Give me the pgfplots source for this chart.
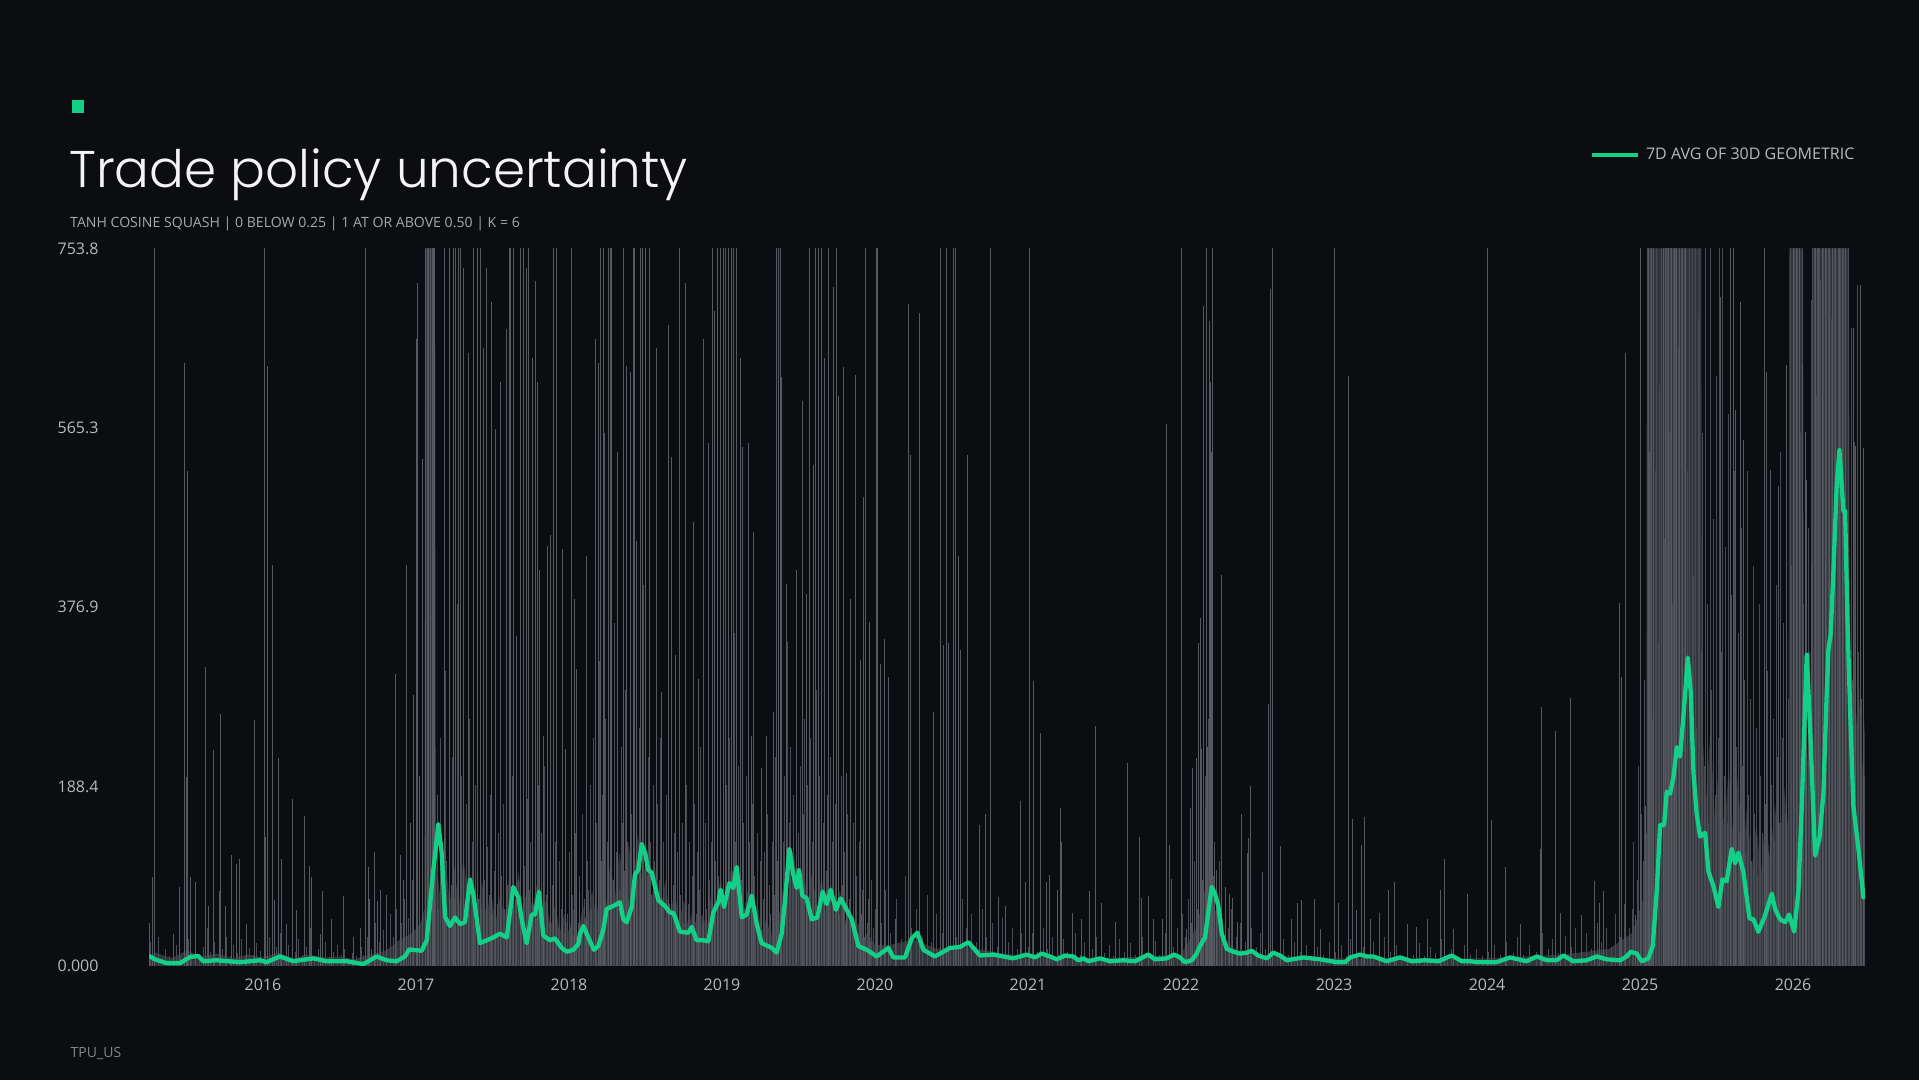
\documentclass[border=0pt]{standalone}
\usepackage{fontspec}
\setmainfont{Open Sans}
\newfontfamily\titlefont{Poppins Light}
\usepackage{pgfplots}
\pgfplotsset{compat=1.18}
\definecolor{bg}{RGB}{12,13,16}
\definecolor{grn}{RGB}{18,208,135}
\definecolor{barc}{RGB}{86,90,96}
\definecolor{barf}{RGB}{72,75,81}
\definecolor{basec}{RGB}{50,53,58}
\definecolor{lbl}{RGB}{182,185,190}
\definecolor{subc}{RGB}{165,168,173}
\definecolor{footc}{RGB}{130,133,138}
\definecolor{ttl}{RGB}{244,244,244}
\begin{document}
\begin{tikzpicture}
\fill[bg] (0bp,0bp) rectangle (1919bp,1080bp);
\fill[grn] (72bp,967bp) rectangle (84bp,980bp);
\node[anchor=base west, inner sep=0pt, text=ttl, font=\titlefont\fontsize{51.6bp}{55bp}\selectfont] at (69bp,892bp) {Trade policy uncertainty};
\node[anchor=base west, inner sep=0pt, text=subc, font=\fontsize{14.1bp}{16bp}\selectfont] at (70bp,852.3bp) {TANH COSINE SQUASH | 0 BELOW 0.25 | 1 AT OR ABOVE 0.50 | K = 6};
\node[anchor=base west, inner sep=0pt, text=footc, font=\fontsize{14bp}{16bp}\selectfont] at (70.5bp,23bp) {TPU\_US};
\begin{axis}[at={(149bp,114bp)}, anchor=south west, scale only axis,
  width=1716bp, height=717.5bp,
  xmin=2015.255, xmax=2026.47, ymin=0, ymax=753.8,
  axis line style={draw=none}, major tick length=0pt,
  xtick={2016,2017,2018,2019,2020,2021,2022,2023,2024,2025,2026},
  xticklabels={2016,2017,2018,2019,2020,2021,2022,2023,2024,2025,2026},
  ytick={0,188.45,376.9,565.35,753.8},
  yticklabels={0.000,188.4,376.9,565.3,753.8},
  xticklabel style={font=\fontsize{16bp}{18bp}\selectfont, text=lbl, inner sep=0pt, anchor=north, yshift=-13bp},
  yticklabel style={font=\fontsize{16bp}{18bp}\selectfont, text=lbl, inner sep=0pt, anchor=east, xshift=-50.3bp},
  legend style={at={(0.8397,1.1307)}, anchor=west, draw=none, fill=none, inner sep=0pt, outer sep=0pt,
    font=\fontsize{16bp}{18bp}\selectfont, text=lbl, nodes={inner sep=0pt}},
  legend image code/.code={\draw[#1, line width=4bp, line cap=butt] (0bp,0bp) -- (45.7bp,0bp); \path (52bp,0bp);},
]
% dense base texture of the daily bars
\addplot[fill=basec, draw=none, forget plot] coordinates {
(2015.255,10)(2015.30,14)(2015.40,8)(2015.50,16)(2015.60,10)(2015.70,13)(2015.80,8)(2015.90,12)(2016.00,9)(2016.10,14)(2016.20,8)(2016.30,12)(2016.40,9)(2016.50,10)(2016.60,7)(2016.70,12)(2016.80,16)(2016.90,28)(2016.98,35)(2017.03,45)(2017.055,60)(2017.06,753.8)(2017.125,753.8)
(2017.13,110)(2017.16,70)(2017.19,120)(2017.22,65)(2017.25,105)(2017.28,60)(2017.31,115)(2017.34,70)(2017.37,100)(2017.40,55)(2017.43,90)(2017.46,50)(2017.49,80)(2017.52,45)(2017.55,75)(2017.58,50)(2017.61,95)(2017.64,60)(2017.67,100)(2017.70,55)(2017.73,90)(2017.76,60)(2017.79,85)(2017.82,50)(2017.85,70)(2017.88,40)(2017.91,65)(2017.94,35)(2017.97,55)(2018.00,35)(2018.03,60)(2018.06,30)(2018.09,65)(2018.12,40)(2018.15,80)(2018.18,50)(2018.21,100)(2018.24,60)(2018.27,110)(2018.30,70)(2018.33,120)(2018.36,75)(2018.39,130)(2018.42,80)(2018.45,140)(2018.48,85)(2018.51,125)(2018.54,70)(2018.57,105)(2018.60,60)(2018.63,90)(2018.66,50)(2018.69,80)(2018.72,45)(2018.75,70)(2018.78,40)(2018.81,60)(2018.84,35)(2018.87,55)(2018.90,40)(2018.93,75)(2018.96,50)(2018.99,95)(2019.02,60)(2019.05,105)(2019.08,65)(2019.11,100)(2019.14,55)(2019.17,80)(2019.20,45)(2019.23,65)(2019.26,35)(2019.29,50)(2019.32,30)(2019.35,60)(2019.38,55)(2019.41,100)(2019.44,70)(2019.47,120)(2019.50,75)(2019.53,110)(2019.56,65)(2019.59,100)(2019.62,60)(2019.65,95)(2019.68,55)(2019.71,90)(2019.74,50)(2019.77,80)(2019.80,45)(2019.83,60)(2019.86,35)(2019.89,45)(2019.92,25)(2019.95,35)(2020.00,22)
(2020.10,22)(2020.25,28)(2020.40,18)(2020.60,20)(2020.80,14)(2021.00,10)(2021.50,8)(2022.00,12)(2022.10,40)(2022.17,90)(2022.22,60)(2022.30,25)(2022.40,12)(2022.70,10)(2023.00,8)(2023.50,8)(2024.00,8)(2024.50,12)(2024.80,18)(2024.95,35)(2025.04,80)(2025.045,753.8)(2025.40,753.8)
(2025.405,260)(2025.43,170)(2025.46,250)(2025.49,150)(2025.52,230)(2025.55,140)(2025.58,210)(2025.61,130)(2025.64,200)(2025.67,110)(2025.70,170)(2025.73,100)(2025.76,150)(2025.79,95)(2025.82,160)(2025.85,110)(2025.88,170)(2025.91,120)(2025.94,190)(2025.97,140)(2025.975,753.8)(2026.065,753.8)(2026.07,300)(2026.09,200)(2026.11,320)(2026.12,250)(2026.125,753.8)(2026.365,753.8)(2026.37,330)(2026.40,220)(2026.43,300)(2026.45,200)(2026.47,260)
} \closedcycle;
% filler daily bars
\addplot[ycomb, draw=barf, line width=1bp, forget plot] coordinates {
(2015.265,25)(2015.29,12)(2015.315,30)(2015.34,8)(2015.365,18)(2015.39,10)(2015.435,22)(2015.46,9)(2015.51,28)(2015.535,14)(2015.56,35)(2015.585,12)(2015.61,20)(2015.635,40)(2015.66,15)(2015.685,25)(2015.735,18)(2015.76,30)(2015.785,10)(2015.81,22)(2015.835,14)(2015.86,28)(2015.885,9)(2015.91,19)(2015.935,12)(2015.96,24)(2015.985,16)(2016.04,30)(2016.065,12)(2016.09,20)(2016.115,35)(2016.14,10)(2016.165,22)(2016.21,15)(2016.235,28)(2016.26,12)(2016.285,20)(2016.31,40)(2016.335,10)(2016.36,18)(2016.41,25)(2016.435,9)(2016.46,15)(2016.485,22)(2016.51,12)(2016.535,18)(2016.56,8)(2016.585,14)(2016.61,10)(2016.645,20)(2016.66,12)(2016.685,30)(2016.71,18)(2016.735,45)(2016.76,25)(2016.785,38)(2016.81,22)(2016.835,55)(2016.85,30)(2016.875,60)(2016.905,45)(2016.925,70)(2016.95,50)(2016.975,90)
(2017.13,95)(2017.14,180)(2017.15,60)(2017.16,240)(2017.17,130)(2017.18,75)(2017.19,310)(2017.20,110)(2017.21,50)(2017.22,160)
(2017.23,85)(2017.24,220)(2017.25,70)(2017.26,140)(2017.27,380)(2017.28,90)(2017.29,55)(2017.30,200)(2017.31,120)(2017.32,65)
(2017.33,170)(2017.34,95)(2017.35,260)(2017.36,80)(2017.37,130)(2017.38,45)(2017.39,190)(2017.40,110)(2017.41,70)(2017.42,150)
(2017.43,60)(2017.44,230)(2017.45,90)(2017.46,40)(2017.47,125)(2017.48,75)(2017.49,180)(2017.50,55)(2017.51,100)(2017.52,210)
(2017.53,65)(2017.54,140)(2017.55,45)(2017.56,95)(2017.57,170)(2017.58,60)(2017.59,260)(2017.60,85)(2017.61,130)(2017.62,50)
(2017.63,200)(2017.64,115)(2017.65,70)(2017.66,300)(2017.67,90)(2017.68,155)(2017.69,60)(2017.70,220)(2017.71,105)(2017.72,45)
(2017.73,175)(2017.74,80)(2017.75,130)(2017.76,240)(2017.77,65)(2017.78,110)(2017.79,50)(2017.80,190)(2017.81,90)(2017.82,140)
(2017.83,60)(2017.84,210)(2017.85,75)(2017.86,120)(2017.87,45)(2017.88,165)(2017.89,85)(2017.90,55)(2017.91,130)(2017.92,70)
(2017.93,40)(2017.94,110)(2017.95,60)(2017.96,150)(2017.97,35)(2017.98,90)(2017.99,55)(2018.00,120)(2018.01,40)(2018.02,75)
(2018.03,30)(2018.04,140)(2018.05,60)(2018.06,45)(2018.07,95)(2018.08,35)(2018.09,160)(2018.10,70)(2018.11,50)(2018.12,110)
(2018.13,80)(2018.14,190)(2018.15,60)(2018.16,240)(2018.17,95)(2018.18,150)(2018.19,70)(2018.20,320)(2018.21,110)(2018.22,180)
(2018.23,85)(2018.24,260)(2018.25,130)(2018.26,75)(2018.27,210)(2018.28,140)(2018.29,90)(2018.30,360)(2018.31,120)(2018.32,170)
(2018.33,80)(2018.34,230)(2018.35,150)(2018.36,100)(2018.37,290)(2018.38,130)(2018.39,70)(2018.40,200)(2018.41,160)(2018.42,110)
(2018.43,340)(2018.44,140)(2018.45,90)(2018.46,250)(2018.47,180)(2018.48,120)(2018.49,400)(2018.50,150)(2018.51,95)(2018.52,220)
(2018.53,130)(2018.54,75)(2018.55,190)(2018.56,110)(2018.57,60)(2018.58,170)(2018.59,90)(2018.60,240)(2018.61,70)(2018.62,130)
(2018.63,50)(2018.64,180)(2018.65,100)(2018.66,65)(2018.67,210)(2018.68,85)(2018.69,140)(2018.70,55)(2018.71,120)(2018.72,260)
(2018.73,75)(2018.74,150)(2018.75,45)(2018.76,110)(2018.77,190)(2018.78,65)(2018.79,130)(2018.80,40)(2018.81,95)(2018.82,170)
(2018.83,55)(2018.84,120)(2018.85,80)(2018.86,230)(2018.87,45)(2018.88,100)(2018.89,150)(2018.90,60)(2018.91,200)(2018.92,90)
(2018.93,130)(2018.94,70)(2018.95,180)(2018.96,110)(2018.97,260)(2018.98,95)(2018.99,150)(2019.00,75)(2019.01,310)(2019.02,120)
(2019.03,190)(2019.04,85)(2019.05,240)(2019.06,140)(2019.07,100)(2019.08,350)(2019.09,130)(2019.10,70)(2019.11,210)(2019.12,160)
(2019.13,90)(2019.14,150)(2019.15,60)(2019.16,200)(2019.17,80)(2019.18,130)(2019.19,50)(2019.20,170)(2019.21,95)(2019.22,60)
(2019.23,140)(2019.24,45)(2019.25,110)(2019.26,190)(2019.27,70)(2019.28,120)(2019.29,40)(2019.30,160)(2019.31,85)(2019.32,55)
(2019.33,130)(2019.34,75)(2019.35,220)(2019.36,110)(2019.37,160)(2019.38,90)(2019.39,280)(2019.40,130)(2019.41,200)(2019.42,100)
(2019.43,340)(2019.44,150)(2019.45,230)(2019.46,120)(2019.47,180)(2019.48,90)(2019.49,300)(2019.50,140)(2019.51,210)(2019.52,95)
(2019.53,160)(2019.54,260)(2019.55,110)(2019.56,190)(2019.57,80)(2019.58,240)(2019.59,130)(2019.60,170)(2019.61,70)(2019.62,290)
(2019.63,120)(2019.64,200)(2019.65,90)(2019.66,150)(2019.67,250)(2019.68,100)(2019.69,180)(2019.70,75)(2019.71,220)(2019.72,130)
(2019.73,60)(2019.74,170)(2019.75,95)(2019.76,140)(2019.77,55)(2019.78,200)(2019.79,85)(2019.80,120)(2019.81,45)(2019.82,160)
(2019.83,70)(2019.84,110)(2019.85,40)(2019.86,150)(2019.87,65)(2019.88,95)(2019.89,35)(2019.90,130)(2019.91,55)(2019.92,80)
(2019.93,30)(2019.94,110)(2019.95,45)(2019.96,70)(2019.97,25)(2019.98,90)(2019.99,40)
(2020.005,60)(2020.04,45)(2020.07,80)(2020.10,35)(2020.14,70)(2020.17,28)(2020.20,95)(2020.24,40)(2020.27,60)(2020.31,30)(2020.34,75)(2020.37,25)(2020.40,55)(2020.44,35)(2020.49,90)(2020.53,30)(2020.57,70)(2020.60,40)(2020.63,55)(2020.66,25)(2020.70,60)(2020.73,30)(2020.77,45)(2020.80,20)(2020.83,50)(2020.87,25)(2020.90,40)(2020.93,18)(2020.96,35)
(2021.00,20)(2021.03,35)(2021.06,15)(2021.10,40)(2021.13,18)(2021.16,30)(2021.20,12)(2021.23,28)(2021.26,15)(2021.31,35)(2021.34,12)(2021.37,25)(2021.42,18)(2021.45,30)(2021.50,14)(2021.53,22)(2021.56,10)(2021.60,28)(2021.63,15)(2021.67,24)(2021.70,12)(2021.75,30)(2021.79,18)(2021.83,26)(2021.86,12)(2021.90,35)(2021.95,20)(2021.98,40)
(2022.01,55)(2022.03,30)(2022.05,70)(2022.07,45)(2022.09,110)(2022.11,60)(2022.13,150)(2022.14,90)(2022.16,200)(2022.17,120)(2022.18,260)(2022.19,140)(2022.20,180)(2022.21,95)(2022.22,130)(2022.24,70)(2022.25,110)(2022.27,50)(2022.29,80)(2022.31,40)(2022.33,60)(2022.36,30)(2022.39,45)(2022.42,25)(2022.46,40)(2022.49,20)(2022.52,35)(2022.55,18)(2022.60,30)(2022.63,15)(2022.67,28)(2022.70,12)(2022.74,25)(2022.78,15)(2022.82,22)(2022.85,10)(2022.89,20)(2022.93,12)(2022.97,25)
(2023.01,15)(2023.05,22)(2023.08,10)(2023.11,28)(2023.15,14)(2023.19,20)(2023.22,10)(2023.26,25)(2023.30,12)(2023.33,30)(2023.37,15)(2023.41,22)(2023.44,10)(2023.48,18)(2023.52,12)(2023.56,24)(2023.59,10)(2023.63,20)(2023.66,14)(2023.70,28)(2023.74,12)(2023.77,18)(2023.81,10)(2023.85,22)(2023.89,12)(2023.93,18)(2023.97,10)
(2024.01,15)(2024.05,22)(2024.09,12)(2024.13,25)(2024.17,14)(2024.20,30)(2024.24,12)(2024.28,22)(2024.32,15)(2024.36,35)(2024.40,18)(2024.43,28)(2024.47,14)(2024.51,32)(2024.55,20)(2024.58,40)(2024.62,22)(2024.65,35)(2024.68,18)(2024.72,45)(2024.75,25)(2024.78,40)(2024.81,20)(2024.84,55)(2024.87,30)(2024.90,65)(2024.93,40)
(2024.95,60)(2024.96,130)(2024.97,45)(2024.98,90)(2024.99,210)(2025.00,80)(2025.01,160)(2025.02,110)(2025.03,300)(2025.04,140)
(2025.05,800)(2025.06,420)(2025.07,800)(2025.08,260)(2025.09,800)(2025.10,520)(2025.11,800)(2025.12,340)(2025.13,610)(2025.14,800)
(2025.15,800)(2025.16,450)(2025.17,800)(2025.18,800)(2025.19,560)(2025.20,800)(2025.21,380)(2025.22,800)(2025.23,800)(2025.24,800)
(2025.25,650)(2025.26,800)(2025.27,800)(2025.28,470)(2025.29,800)(2025.30,800)(2025.31,520)(2025.32,800)(2025.33,300)(2025.34,800)
(2025.35,410)(2025.36,800)(2025.37,250)(2025.38,680)(2025.39,800)(2025.40,330)(2025.41,560)(2025.42,210)(2025.43,800)(2025.44,380)
(2025.45,150)(2025.46,800)(2025.47,290)(2025.48,470)(2025.49,180)(2025.50,620)(2025.51,240)(2025.52,800)(2025.53,330)(2025.54,800)
(2025.55,200)(2025.56,440)(2025.57,150)(2025.58,580)(2025.59,260)(2025.60,390)(2025.61,170)(2025.62,520)(2025.63,230)(2025.64,350)
(2025.65,140)(2025.66,460)(2025.67,210)(2025.68,300)(2025.69,120)(2025.70,520)(2025.71,180)(2025.72,280)(2025.73,110)(2025.74,420)
(2025.75,160)(2025.76,250)(2025.77,95)(2025.78,380)(2025.79,200)(2025.80,140)(2025.81,450)(2025.82,170)(2025.83,310)(2025.84,120)
(2025.85,480)(2025.86,190)(2025.87,260)(2025.88,130)(2025.89,400)(2025.90,220)(2025.91,150)(2025.92,540)(2025.93,240)(2025.94,360)
(2025.95,160)(2025.96,500)(2025.97,280)(2025.98,800)(2025.99,420)(2026.00,800)(2026.01,800)(2026.02,640)(2026.03,800)(2026.04,800)
(2026.05,560)(2026.06,800)(2026.07,380)(2026.08,520)(2026.09,260)(2026.10,460)(2026.11,330)(2026.12,700)(2026.13,800)(2026.14,800)
(2026.15,600)(2026.16,800)(2026.17,800)(2026.18,720)(2026.19,800)(2026.20,800)(2026.21,560)(2026.22,800)(2026.23,800)(2026.24,800)
(2026.25,680)(2026.26,800)(2026.27,800)(2026.28,800)(2026.29,500)(2026.30,800)(2026.31,800)(2026.32,640)(2026.33,800)(2026.34,800)
(2026.35,450)(2026.36,800)(2026.37,380)(2026.38,670)(2026.39,300)(2026.40,550)(2026.41,250)(2026.42,715)(2026.43,330)(2026.44,544)
(2026.45,280)(2026.46,460)(2026.47,200)
};
% prominent daily spikes
\addplot[ycomb, draw=barc, line width=1bp, forget plot] coordinates {
(2015.257,45)(2015.279,93)(2015.294,800)(2015.414,34)(2015.453,83)(2015.486,634)(2015.497,199)(2015.505,520)(2015.523,93)(2015.556,88)(2015.623,314)(2015.643,63)(2015.675,227)(2015.714,79)(2015.721,265)(2015.756,63)(2015.795,117)(2015.828,107)(2015.845,112)(2015.893,44)(2015.943,258)(2016.011,800)(2016.018,135)(2016.028,630)(2016.063,421)(2016.078,69)(2016.100,219)(2016.122,112)(2016.155,44)(2016.194,175)(2016.220,59)(2016.270,158)(2016.303,105)(2016.318,93)(2016.373,34)(2016.388,79)(2016.449,49)(2016.525,74)(2016.591,30)(2016.634,40)(2016.671,800)(2016.690,104)(2016.699,70)(2016.727,120)(2016.747,68)(2016.769,80)(2016.808,75)(2016.865,307)(2016.897,117)(2016.917,90)(2016.937,421)(2016.961,150)(2016.985,285)(2017.002,659)(2017.013,718)(2017.026,200)(2017.044,533)
(2017.065,800)(2017.074,800)(2017.083,800)(2017.092,800)(2017.098,800)(2017.107,800)(2017.113,800)(2017.122,800)
(2017.187,800)(2017.218,800)(2017.244,800)(2017.261,800)(2017.281,800)(2017.292,800)(2017.309,733)(2017.342,644)(2017.375,800)(2017.401,800)(2017.423,800)(2017.440,649)(2017.462,733)(2017.495,698)(2017.521,564)(2017.549,614)(2017.593,669)(2017.610,800)(2017.619,800)(2017.636,800)(2017.654,347)(2017.680,800)(2017.702,800)(2017.723,733)(2017.736,800)(2017.763,639)(2017.782,720)(2017.793,614)(2017.810,416)(2017.832,242)(2017.858,441)(2017.876,453)(2017.897,800)(2017.919,800)(2017.958,438)(2017.980,228)(2018.017,800)(2018.034,386)(2018.050,312)(2018.067,79)(2018.115,431)
(2018.176,659)(2018.192,634)(2018.207,800)(2018.224,800)(2018.235,560)(2018.257,800)(2018.268,800)(2018.275,800)(2018.316,540)(2018.355,800)(2018.377,630)(2018.399,624)(2018.420,800)(2018.431,800)(2018.442,446)(2018.464,800)(2018.481,800)(2018.497,800)(2018.529,800)(2018.573,649)(2018.606,288)(2018.649,673)(2018.671,535)(2018.697,327)(2018.725,800)(2018.760,718)(2018.812,466)(2018.848,302)(2018.878,659)(2018.911,549)(2018.939,800)(2018.954,688)(2018.969,800)(2018.987,800)(2019.009,800)(2019.026,800)(2019.041,800)(2019.063,800)(2019.078,800)(2019.096,800)(2019.118,639)(2019.133,545)(2019.176,549)(2019.194,242)(2019.205,456)(2019.259,208)(2019.292,242)(2019.335,267)(2019.357,800)(2019.368,800)(2019.379,800)(2019.390,619)(2019.423,401)(2019.488,416)(2019.527,594)(2019.553,391)(2019.575,800)(2019.597,526)(2019.614,800)(2019.630,800)(2019.651,800)(2019.673,639)(2019.695,800)(2019.727,713)(2019.750,800)(2019.760,599)(2019.793,629)(2019.815,203)(2019.837,386)(2019.872,621)(2019.902,322)(2019.924,493)(2019.935,800)(2019.967,361)
(2020.011,800)(2020.018,800)(2020.033,317)(2020.061,344)(2020.087,304)(2020.131,49)(2020.218,696)(2020.235,537)(2020.290,686)(2020.381,267)(2020.425,800)(2020.447,337)(2020.469,800)(2020.479,339)(2020.516,800)(2020.523,800)(2020.544,431)(2020.556,332)(2020.603,537)(2020.686,148)(2020.719,160)(2020.752,800)(2020.806,73)(2020.850,63)(2020.948,173)(2020.985,88)
(2021.009,800)(2021.011,178)(2021.037,299)(2021.083,245)(2021.122,88)(2021.139,96)(2021.192,80)(2021.214,166)(2021.220,130)(2021.290,56)(2021.351,49)(2021.401,79)(2021.442,252)(2021.477,66)(2021.573,46)(2021.649,213)(2021.728,135)(2021.739,71)(2021.786,74)(2021.819,49)(2021.880,49)(2021.904,569)(2021.922,127)(2021.939,91)
(2022.004,800)(2022.037,39)(2022.059,166)(2022.074,208)(2022.098,218)(2022.115,339)(2022.124,366)(2022.135,228)(2022.146,693)(2022.157,168)(2022.165,800)(2022.174,230)(2022.185,678)(2022.192,614)(2022.194,441)(2022.198,540)(2022.205,800)(2022.218,123)(2022.233,101)(2022.264,411)(2022.288,83)(2022.316,76)(2022.338,71)(2022.366,46)(2022.397,160)(2022.434,119)(2022.442,134)(2022.455,189)(2022.532,99)(2022.571,275)(2022.587,711)(2022.598,800)(2022.651,126)(2022.720,49)(2022.762,66)(2022.790,69)(2022.873,70)(2022.914,39)
(2023.003,800)(2023.031,66)(2023.094,620)(2023.120,154)(2023.144,59)(2023.179,127)(2023.199,157)(2023.240,49)(2023.297,56)(2023.356,80)(2023.395,88)(2023.480,44)(2023.541,41)(2023.610,49)(2023.697,80)(2023.721,112)(2023.780,39)(2023.872,76)
(2024.002,800)(2024.030,153)(2024.121,104)(2024.218,44)(2024.346,123)(2024.353,272)(2024.446,247)(2024.481,56)(2024.546,282)(2024.619,54)(2024.701,89)(2024.734,66)(2024.760,79)(2024.865,381)(2024.880,304)(2024.904,644)(2024.967,54)
(2025.004,800)(2025.037,168)(2025.054,800)(2025.061,540)(2025.076,800)(2025.087,800)(2025.155,800)(2025.165,800)(2025.185,800)(2025.205,800)(2025.225,800)(2025.235,800)(2025.255,800)(2025.275,800)(2025.295,800)(2025.523,703)(2025.588,800)(2025.608,800)(2025.621,584)(2025.654,698)(2025.673,553)(2025.812,800)(2025.828,624)(2025.854,521)(2025.904,504)(2025.959,631)(2026.005,800)(2026.025,800)(2026.045,800)(2026.063,632)(2026.078,561)(2026.089,511)(2026.122,420)(2026.145,800)(2026.165,800)(2026.195,800)(2026.215,800)(2026.235,800)(2026.255,800)(2026.275,800)(2026.305,800)(2026.325,800)(2026.345,800)(2026.394,670)(2026.405,546)(2026.442,715)(2026.459,544)
};
% 7-day average of the 30-day geometric measure
\addplot[grn, line width=4.3bp, line join=round, line cap=round] coordinates {
(2015.257,10.5)(2015.294,7)(2015.370,3)(2015.458,3)(2015.523,9.5)(2015.577,10.5)(2015.610,5)(2015.697,6)(2015.850,4)(2015.980,6)(2016.024,4)(2016.111,10)(2016.198,5)(2016.329,8)(2016.416,5)(2016.547,5)(2016.656,2)(2016.743,10)(2016.808,6)(2016.874,5)(2016.928,10)(2016.956,17.4)(2017.037,16)(2017.070,26.8)(2017.109,94)(2017.146,149)(2017.168,119)(2017.190,51.5)(2017.222,42)(2017.255,51)(2017.288,44)(2017.320,46)(2017.353,91)(2017.375,75)(2017.418,24)(2017.462,27)(2017.505,30)(2017.549,34)(2017.593,30)(2017.636,83)(2017.669,72)(2017.691,49)(2017.723,24)(2017.756,54)(2017.778,54)(2017.804,78)(2017.832,32)(2017.876,27)(2017.908,29)(2017.952,19)(2017.985,15)(2018.028,17)(2018.061,23)
(2018.072,34)(2018.094,42)(2018.126,30)(2018.163,17)(2018.192,21)(2018.224,38)(2018.246,60)(2018.290,63)(2018.333,67)(2018.355,49)(2018.377,46)(2018.410,62)(2018.431,96)(2018.453,101)(2018.475,128)(2018.497,119)(2018.518,101)(2018.540,98)(2018.584,69)(2018.627,63)(2018.660,56)(2018.682,56)(2018.725,36)(2018.780,35)(2018.802,41)(2018.834,27)(2018.878,27)(2018.911,26)(2018.943,56)(2018.976,67)(2018.991,80)(2019.013,62)(2019.048,87)(2019.074,82)(2019.096,104)(2019.129,51)(2019.161,54)(2019.194,74)(2019.227,44)(2019.259,24)(2019.325,19)(2019.357,14)(2019.390,34)(2019.412,69)(2019.440,123)(2019.466,96)(2019.488,82)(2019.503,101)(2019.525,74)(2019.553,71)(2019.586,49)(2019.623,51)(2019.658,78)(2019.684,65)(2019.710,80)(2019.745,59)(2019.776,71)(2019.815,59)(2019.848,49)(2019.891,21)(2019.946,17)(2020.011,10)(2020.087,19)(2020.120,9)(2020.196,9)(2020.240,29)(2020.277,35)(2020.316,17)(2020.392,10)(2020.490,19)(2020.556,20)(2020.610,25)(2020.686,11)(2020.773,12)(2020.904,8)(2020.991,12)
(2021.046,9)(2021.089,13)(2021.144,10)(2021.188,7)(2021.242,11)(2021.296,10)(2021.329,6)(2021.362,8)(2021.394,5)(2021.471,8)(2021.536,5)(2021.623,6)(2021.699,5)(2021.786,12)(2021.830,7)(2021.906,8)(2021.954,12)(2021.993,9)(2022.026,4)(2022.070,6)(2022.102,13)(2022.124,21)(2022.157,30)(2022.178,56)(2022.200,83)(2022.222,76)(2022.244,63)(2022.266,34)(2022.299,18)(2022.342,15)(2022.386,13)(2022.429,14)(2022.462,16)(2022.505,11)(2022.560,8)(2022.603,14)(2022.647,11)(2022.691,6)(2022.799,9)(2022.908,7)(2023.018,4)(2023.072,4)(2023.105,9)(2023.170,12)(2023.214,10)(2023.257,10)(2023.344,5)(2023.431,9)(2023.508,5)(2023.595,6)(2023.682,5)(2023.769,11)(2023.835,5)(2023.889,5)
(2023.933,4)(2024.063,4)(2024.150,9)(2024.259,5)(2024.325,10)(2024.390,6)(2024.455,6)(2024.499,11)(2024.564,5)(2024.652,6)(2024.717,10)(2024.782,7)(2024.869,6)(2024.913,10)(2024.939,15)(2024.978,13)(2025.011,5)(2025.054,8)(2025.083,21)(2025.109,79)(2025.131,148)(2025.157,148)(2025.174,183)(2025.196,181)(2025.218,198)(2025.240,230)(2025.261,220)(2025.283,262)(2025.312,324)(2025.331,288)(2025.349,203)(2025.370,160)(2025.392,136)(2025.425,140)(2025.447,99)(2025.479,84)(2025.512,62)(2025.538,91)(2025.566,89)(2025.599,123)(2025.621,108)(2025.643,119)(2025.675,99)(2025.715,50)(2025.741,49)(2025.773,36)(2025.817,53)(2025.861,76)(2025.882,60)(2025.915,49)(2025.948,46)(2025.974,54)(2026.007,36)(2026.035,79)(2026.057,168)(2026.089,327)(2026.111,252)(2026.144,116)(2026.172,134)(2026.198,181)(2026.220,287)(2026.231,332)(2026.246,349)(2026.264,416)(2026.285,505)(2026.303,542)(2026.318,505)(2026.329,478)(2026.340,478)(2026.355,366)(2026.373,267)(2026.394,168)(2026.427,123)(2026.460,72)
};
\addlegendentry{7D AVG OF 30D GEOMETRIC}
\end{axis}
\pgfresetboundingbox
\path[use as bounding box] (0bp,0bp) rectangle (1919bp,1080bp);
\end{tikzpicture}
\end{document}
